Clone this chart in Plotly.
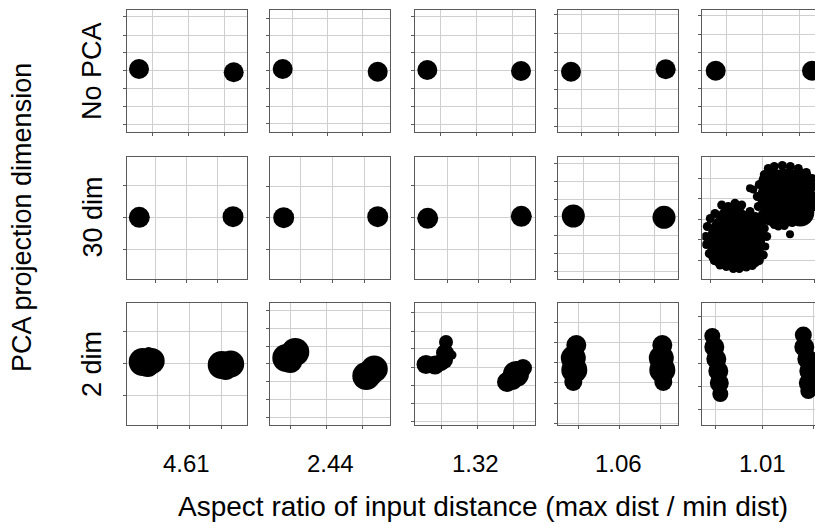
import plotly.graph_objects as go

# ---------------- data (panel-local units) ----------------
col_labels = ["4.61", "2.44", "1.32", "1.06", "1.01"]
row_labels = ["No PCA", "30 dim", "2 dim"]
x_title = "Aspect ratio of input distance (max dist / min dist)"
y_title = "PCA projection dimension"

# cluster points: (x, y, size) ; y measured downward from panel top
p11_pts = [(12.3, 59.0, 20), (107.0, 62.3, 20)]
p12_pts = [(12.4, 59.0, 20), (107.4, 61.7, 20)]
p13_pts = [(12.3, 60.0, 20), (106.0, 61.0, 20)]
p14_pts = [(12.7, 61.7, 20), (107.4, 59.3, 20)]
p15_pts = [(13.4, 60.7, 20), (109.7, 60.7, 20)]

p21_pts = [(12.6, 60.8, 21), (106.3, 60.2, 21)]
p22_pts = [(13.4, 61.2, 21), (107.4, 60.2, 21)]
p23_pts = [(12.7, 61.8, 21), (106.3, 59.8, 21)]
p24_pts = [(15.0, 59.5, 23), (105.7, 60.8, 23)]
p25_pts = [
    (34, 82, 58), (30, 64, 32), (50, 72, 28), (20, 96, 30), (48, 98, 28),
    (12.7, 57, 9), (19.4, 48.5, 9), (26, 50, 9), (32.7, 46.8, 9), (39.4, 48.5, 9),
    (47.7, 55, 9), (53, 60, 9), (58, 66, 9), (62, 72, 9), (64.4, 80, 9), (63, 90, 8),
    (61, 98.5, 9), (57, 104, 9), (50, 109, 9), (44, 110.5, 9), (37, 112, 9),
    (31, 112, 9), (24, 110, 9), (17.7, 108.5, 9), (12, 104, 9), (7, 97, 9),
    (4, 88, 9), (3.5, 80, 9), (5, 70, 9), (8, 62, 9),
    (84, 41, 58), (70, 26, 28), (98, 26, 28), (72, 56, 28), (98, 56, 28),
    (62, 18, 9), (66, 12, 9), (72, 10, 9), (80, 9, 9), (88, 10, 9), (96, 12, 9),
    (104, 16, 9), (110, 22, 9), (57, 28, 9), (47.7, 31.8, 8), (51, 33, 8),
    (55, 40, 9), (56, 50, 9), (60, 58, 9), (66, 64, 9), (72, 68, 9), (76, 70, 8),
    (82, 69, 9), (90, 66, 9), (98, 64, 9), (87.7, 77.8, 8), (105, 58, 9),
    (111, 30, 9), (112, 40, 9), (112, 50, 9),
]

p31_pts = [(16, 59, 28), (25, 58, 26), (21, 62, 24), (22, 50, 12),
           (95, 62, 28), (104, 61, 27), (99, 66, 22)]
p32_pts = [(16, 55, 28), (25, 49, 28), (20, 58, 24),
           (96, 73, 28), (104, 66, 27), (100, 70, 26)]
p33_pts = [(11, 61.5, 19), (20, 62, 19), (26, 60, 16), (31, 39, 14), (30, 50, 18), (29, 57, 18),
           (37, 52, 9),
           (92, 79, 20), (101, 71, 26), (108, 65, 18), (97, 76, 22)]
p34_pts = [(18, 42, 20), (15, 55, 25), (16, 67, 26), (15, 79, 18),
           (104, 42, 20), (103, 55, 25), (104, 67, 26), (105, 79, 18)]
p35_pts = [(10, 33, 16), (12, 44, 20), (14, 56, 20), (16, 68, 20), (17, 80, 19), (18, 91, 16),
           (101, 32, 17), (102, 44, 20), (105, 56, 20), (107, 68, 20), (106, 80, 19), (106, 88, 16)]

# tick / grid positions per panel
p11_xt, p11_yt = [25.6, 61.6, 97.6], [6.7, 25, 42.7, 60.7, 78.7, 96.7, 114.3]
p12_xt, p12_yt = [22, 57.4, 92], [8.3, 25, 42.7, 60.7, 78.3, 96, 113.3]
p13_xt, p13_yt = [25.7, 61.7, 97.7], [6.7, 25, 42.7, 60.7, 78.7, 96.7, 114.3]
p14_xt, p14_yt = [22.7, 60, 97.4], [4.3, 23.3, 42.3, 60.7, 79.3, 98, 116.7]
p15_xt, p15_yt = [24.4, 60.4, 96.7], [5.7, 24, 42.3, 60.7, 78.7, 96.7, 114.7]

p21_xt, p21_yt = [28.3, 59.6, 90.6], [28.5, 60.5, 92.5]
p22_xt, p22_yt = [30.4, 62.4, 94], [29.5, 60.8, 92.8]
p23_xt, p23_yt = [32.3, 63.3, 95], [29.2, 60.8, 92.8]
p24_xt, p24_yt = [25, 60.7, 96.4], [6.8, 24.5, 42.5, 60.2, 78.5, 96.8, 115.2]
p25_xt, p25_yt = [7.7, 60, 112.5], [21.8, 41.8, 62.5, 82.8, 103.5]

p31_xt, p31_yt = [31, 62.3, 95], [28.3, 60, 92.3]
p32_xt, p32_yt = [20.4, 56.4, 92], [7.3, 25, 43, 60.7, 78.3, 96.3, 114.3]
p33_xt, p33_yt = [26.7, 62.7, 98.7], [9.7, 28, 45.7, 64, 82.3, 100, 118]
p34_xt, p34_yt = [20, 61, 102.4], [19, 39.7, 59.7, 79.7, 100, 120]
p35_xt, p35_yt = [13.4, 60.4, 111], [13.3, 36.7, 60, 83.3, 106.3]

panel_pts = [[p11_pts, p12_pts, p13_pts, p14_pts, p15_pts],
             [p21_pts, p22_pts, p23_pts, p24_pts, p25_pts],
             [p31_pts, p32_pts, p33_pts, p34_pts, p35_pts]]
panel_xt = [[p11_xt, p12_xt, p13_xt, p14_xt, p15_xt],
            [p21_xt, p22_xt, p23_xt, p24_xt, p25_xt],
            [p31_xt, p32_xt, p33_xt, p34_xt, p35_xt]]
panel_yt = [[p11_yt, p12_yt, p13_yt, p14_yt, p15_yt],
            [p21_yt, p22_yt, p23_yt, p24_yt, p25_yt],
            [p31_yt, p32_yt, p33_yt, p34_yt, p35_yt]]

# ---------------- layout geometry ----------------
W, H = 815, 523
col_left = [126.7, 270.3, 415.0, 558.3, 702.3]
row_top = [10.0, 156.5, 303.0]
PW, PH = 120.0, 122.0
FONT = "Liberation Sans, Arial, sans-serif"
LINE = "#5a5a5a"
GRID = "#cfcfcf"

fig = go.Figure()
layout = dict(width=W, height=H, margin=dict(l=0, r=0, t=0, b=0),
              paper_bgcolor="white", plot_bgcolor="white", showlegend=False)

for r in range(3):
    for c in range(5):
        k = r * 5 + c + 1
        sfx = "" if k == 1 else str(k)
        left = col_left[c]
        right = min(left + PW, W)
        xr = right - left
        top = row_top[r]
        bot = top + PH
        pts = panel_pts[r][c]
        fig.add_trace(go.Scatter(
            x=[p[0] for p in pts], y=[p[1] for p in pts], mode="markers",
            marker=dict(color="black", size=[p[2] for p in pts], line=dict(width=0), opacity=1),
            xaxis="x" + sfx, yaxis="y" + sfx, hoverinfo="skip"))
        layout["xaxis" + sfx] = dict(
            domain=[left / W, right / W], range=[0, xr], anchor="y" + sfx,
            tickvals=panel_xt[r][c], showticklabels=False, ticks="outside", ticklen=3,
            tickcolor=LINE, tickwidth=1, showgrid=True, gridcolor=GRID, gridwidth=1,
            showline=True, linecolor=LINE, linewidth=1, mirror=True, zeroline=False,
            fixedrange=True)
        layout["yaxis" + sfx] = dict(
            domain=[1 - bot / H, 1 - top / H], range=[PH, 0], anchor="x" + sfx,
            tickvals=panel_yt[r][c], showticklabels=False, ticks="outside", ticklen=3,
            tickcolor=LINE, tickwidth=1, showgrid=True, gridcolor=GRID, gridwidth=1,
            showline=True, linecolor=LINE, linewidth=1, mirror=(c < 4), zeroline=False,
            fixedrange=True)

ann = []
for c, lab in enumerate(col_labels):
    ann.append(dict(x=(col_left[c] + PW / 2) / W, y=1 - 463 / H, xref="paper", yref="paper",
                    text=lab, showarrow=False, xanchor="center", yanchor="middle",
                    font=dict(family=FONT, size=24, color="black")))
for r, lab in enumerate(row_labels):
    ann.append(dict(x=92 / W, y=1 - (row_top[r] + PH / 2) / H, xref="paper", yref="paper",
                    text=lab, showarrow=False, textangle=-90, xanchor="center", yanchor="middle",
                    font=dict(family=FONT, size=27, color="black")))
ann.append(dict(x=483 / W, y=1 - 506 / H, xref="paper", yref="paper", text=x_title,
                showarrow=False, xanchor="center", yanchor="middle",
                font=dict(family=FONT, size=28, color="black")))
ann.append(dict(x=22 / W, y=1 - 218 / H, xref="paper", yref="paper", text=y_title,
                showarrow=False, textangle=-90, xanchor="center", yanchor="middle",
                font=dict(family=FONT, size=27, color="black")))
layout["annotations"] = ann
fig.update_layout(**layout)
fig.write_html("out.html")
